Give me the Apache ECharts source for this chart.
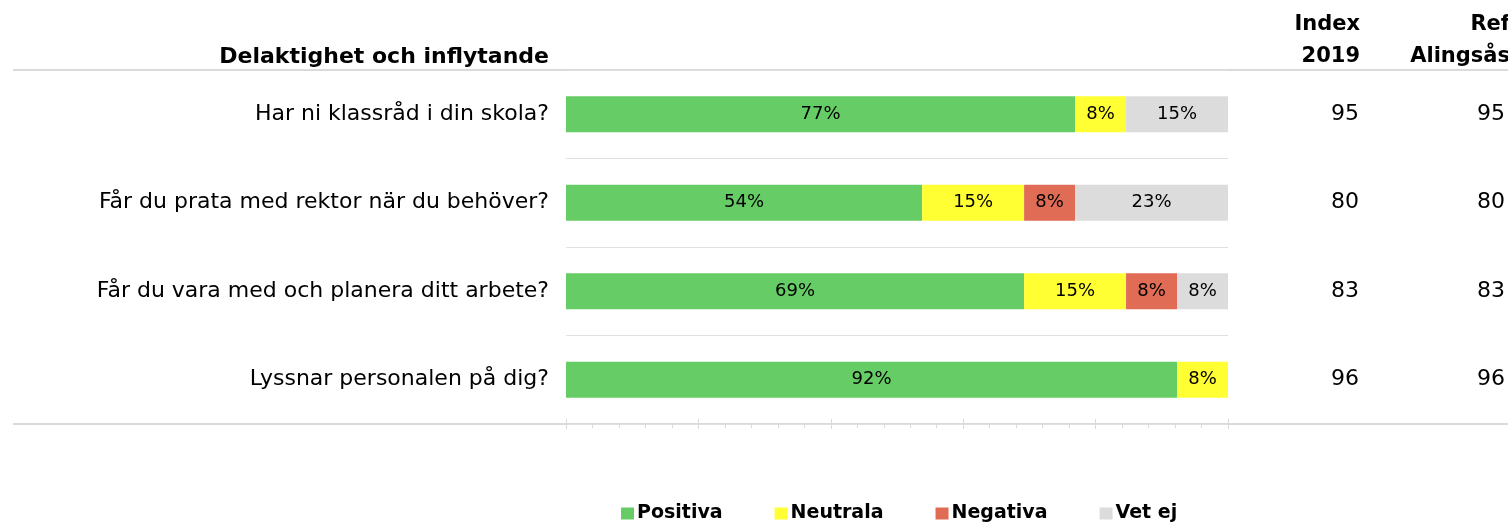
<!DOCTYPE html>
<html>
<head>
<meta charset="utf-8">
<script src="https://cdn.jsdelivr.net/npm/echarts@6/dist/echarts.min.js"></script>
<style>
  html, body { margin: 0; padding: 0; background: #fff; }
  #chart { width: 1508px; height: 523px; }
</style>
</head>
<body>
<div id="chart"></div>
<script>
// Frågor (uppifrån och ned)
const questions = [
    'Har ni klassråd i din skola?',
    'Får du prata med rektor när du behöver?',
    'Får du vara med och planera ditt arbete?',
    'Lyssnar personalen på dig?'
];
// Andel svar i procent
const positiva = [76.9, 53.8, 69.2, 92.3];
const neutrala = [7.7, 15.4, 15.4, 7.7];
const negativa = [0, 7.7, 7.7, 0];
const vetEj = [15.4, 23.1, 7.7, 0];
// Indexkolumner
const index2019 = [95, 80, 83, 96];
const refAlingsas = [95, 80, 83, 96];

const FONT = 'DejaVu Sans';
const LINE = '#dadada';

const chart = echarts.init(document.getElementById('chart'), null, { renderer: 'canvas' });

const barLabel = {
    show: true,
    position: 'inside',
    color: '#000',
    fontFamily: FONT,
    fontSize: 18,
    formatter: p => (p.value > 0 ? Math.round(p.value) + '%' : '')
};

function mkSeries(name, data, color) {
    return {
        name, type: 'bar', stack: 'total', data,
        barWidth: 36,
        itemStyle: { color },
        label: barLabel,
        emphasis: { disabled: true }
    };
}

const option = {
    backgroundColor: '#ffffff',
    animation: false,
    grid: { left: 566, right: 278, top: 70, bottom: 99, containLabel: false },
    xAxis: [
        {
            type: 'value', min: 0, max: 100, interval: 20, position: 'bottom',
            axisLine: { show: false },
            axisLabel: { show: false },
            splitLine: { show: false },
            axisTick: { show: true, length: 5, lineStyle: { color: LINE, width: 1 } },
            minorTick: { show: true, splitNumber: 5, length: 4, lineStyle: { color: LINE, width: 1 } }
        },
        {
            type: 'value', min: 0, max: 100, interval: 20, position: 'bottom',
            axisLine: { show: false },
            axisLabel: { show: false },
            splitLine: { show: false },
            axisTick: { show: true, inside: true, length: 5, lineStyle: { color: LINE, width: 1 } }
        }
    ],
    yAxis: [
        {
            type: 'category', data: questions, inverse: true,
            axisLine: { show: false },
            axisTick: { show: false },
            splitLine: { show: true, lineStyle: { color: '#e0e0e0', width: 1 } },
            axisLabel: { margin: 17, color: '#000', fontFamily: FONT, fontSize: 22 }
        },
        {
            type: 'category', data: questions, inverse: true, position: 'right',
            axisLine: { show: false }, axisTick: { show: false }, splitLine: { show: false },
            axisLabel: {
                margin: 131, align: 'right', color: '#000', fontFamily: FONT, fontSize: 22,
                formatter: (v, i) => String(index2019[i])
            }
        },
        {
            type: 'category', data: questions, inverse: true, position: 'right',
            axisLine: { show: false }, axisTick: { show: false }, splitLine: { show: false },
            axisLabel: {
                margin: 277, align: 'right', color: '#000', fontFamily: FONT, fontSize: 22,
                formatter: (v, i) => String(refAlingsas[i])
            }
        }
    ],
    legend: {
        left: 616, top: 499,
        itemWidth: 13, itemHeight: 12, itemGap: 52,
        icon: 'rect',
        textStyle: { fontFamily: FONT, fontWeight: 'bold', fontSize: 19, color: '#000', padding: [0, 0, 0, -2] },
        data: ['Positiva', 'Neutrala', 'Negativa', 'Vet ej']
    },
    graphic: [
        { type: 'line', silent: true, shape: { x1: 13, y1: 70, x2: 1508, y2: 70 }, style: { stroke: LINE, lineWidth: 2 } },
        { type: 'line', silent: true, shape: { x1: 13, y1: 424, x2: 1508, y2: 424 }, style: { stroke: LINE, lineWidth: 2 } },
        { type: 'text', x: 549, y: 57, style: { text: 'Delaktighet och inflytande', align: 'right', verticalAlign: 'middle', fill: '#000', font: 'bold 22px "DejaVu Sans"' } },
        { type: 'text', x: 1360, y: 25, style: { text: 'Index', align: 'right', verticalAlign: 'middle', fill: '#000', font: 'bold 21px "DejaVu Sans"' } },
        { type: 'text', x: 1360, y: 57, style: { text: '2019', align: 'right', verticalAlign: 'middle', fill: '#000', font: 'bold 21px "DejaVu Sans"' } },
        { type: 'text', x: 1510, y: 25, style: { text: 'Ref', align: 'right', verticalAlign: 'middle', fill: '#000', font: 'bold 21px "DejaVu Sans"' } },
        { type: 'text', x: 1510, y: 57, style: { text: 'Alingsås', align: 'right', verticalAlign: 'middle', fill: '#000', font: 'bold 21px "DejaVu Sans"' } }
    ],
    series: [
        mkSeries('Positiva', positiva, '#66cc66'),
        mkSeries('Neutrala', neutrala, '#ffff33'),
        mkSeries('Negativa', negativa, '#e06c56'),
        mkSeries('Vet ej', vetEj, '#dcdcdc')
    ]
};

chart.setOption(option);
</script>
</body>
</html>
